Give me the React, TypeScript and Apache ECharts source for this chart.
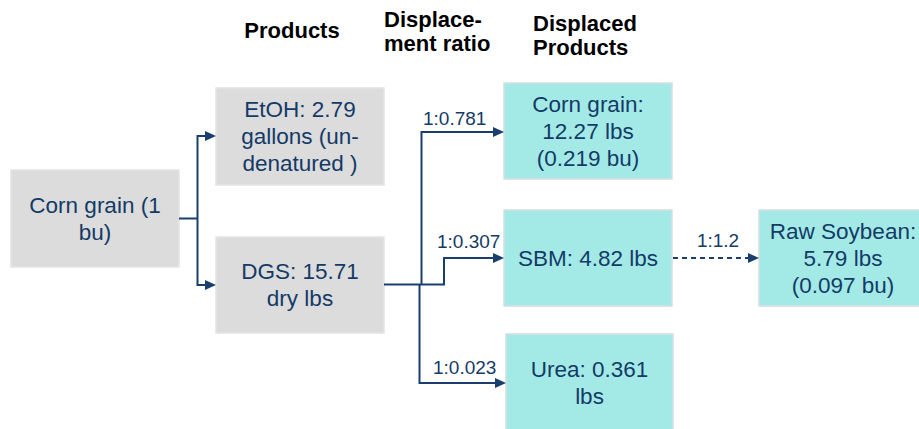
import React, { useEffect, useRef } from "react";
import * as echarts from "echarts";

// ---- Text content (data) ----
const headerLabels = ["Products", "Displace-\nment ratio", "Displaced\nProducts"];
const sourceLabel = "Corn grain (1\nbu)";
const productLabels = ["EtOH: 2.79\ngallons (un-\ndenatured )", "DGS: 15.71\ndry lbs"];
const displacedLabels = ["Corn grain:\n12.27 lbs\n(0.219 bu)", "SBM: 4.82 lbs", "Urea: 0.361\nlbs"];
const ratioLabels = ["1:0.781", "1:0.307", "1:0.023"];
const soyRatioLabel = "1:1.2";
const soyLabel = "Raw Soybean:\n5.79 lbs\n(0.097 bu)";

// ---- Layout (positions / sizes) ----
const FONT = "'Liberation Sans', Arial, Helvetica, sans-serif";
const TEXT_COLOR = "#143a66";
const LINE_COLOR = "#1a3f6c";
const GREY = "#dcdcdc";
const GREY_BORDER = "#e3e3e3";
const CYAN = "#a3eae6";
const CYAN_BORDER = "#d6dede";

const sourceBox = { x: 11, y: 170, w: 168, h: 97 };
const productBoxes = [
  { x: 216, y: 88, w: 168, h: 97 },
  { x: 216, y: 237, w: 168, h: 96 },
];
const displacedBoxes = [
  { x: 504, y: 83, w: 168, h: 96 },
  { x: 504, y: 210, w: 168, h: 96 },
  { x: 506, y: 334, w: 167, h: 98 },
];
const soyBox = { x: 759, y: 210, w: 168, h: 96 };
const headerPos = [
  { x: 292, y: 30, align: "center" },
  { x: 384, y: 31, align: "left" },
  { x: 533, y: 35, align: "left" },
];
const ratioPos = [
  { x: 423, y: 118 },
  { x: 437, y: 241 },
  { x: 433, y: 367 },
];
const soyRatioPos = { x: 718, y: 240 };

function boxEl(b: any, label: string, fill: string, stroke: string) {
  return [
    {
      type: "rect",
      shape: { x: b.x, y: b.y, width: b.w, height: b.h },
      style: { fill, stroke, lineWidth: 1.5 },
    },
    {
      type: "text",
      x: b.x + b.w / 2,
      y: b.y + b.h / 2,
      style: {
        text: label,
        fill: TEXT_COLOR,
        font: `22.5px ${FONT}`,
        fontFamily: FONT,
        fontSize: 22.5,
        lineHeight: 27,
        align: "center",
        verticalAlign: "middle",
      },
    },
  ];
}

function line(points: number[][], dashed = false) {
  return {
    type: "polyline",
    shape: { points },
    style: {
      stroke: LINE_COLOR,
      lineWidth: 2,
      fill: "none",
      lineDash: dashed ? [5, 4] : null,
    },
  };
}

function arrow(tipX: number, y: number) {
  return {
    type: "polygon",
    shape: { points: [[tipX, y], [tipX - 11, y - 5], [tipX - 11, y + 5]] },
    style: { fill: LINE_COLOR },
  };
}

export default function App() {
  const ref = useRef<HTMLDivElement>(null);
  useEffect(() => {
    if (!ref.current) return;
    const chart = echarts.init(ref.current, undefined, { renderer: "svg" });
    const elements: any[] = [];

    // boxes
    elements.push(...boxEl(sourceBox, sourceLabel, GREY, GREY_BORDER));
    productBoxes.forEach((b, i) => elements.push(...boxEl(b, productLabels[i], GREY, GREY_BORDER)));
    displacedBoxes.forEach((b, i) => elements.push(...boxEl(b, displacedLabels[i], CYAN, CYAN_BORDER)));
    elements.push(...boxEl(soyBox, soyLabel, CYAN, CYAN_BORDER));

    // headers
    headerLabels.forEach((t, i) => {
      const p = headerPos[i];
      elements.push({
        type: "text",
        x: p.x,
        y: p.y,
        style: {
          text: t,
          fill: "#000000",
          font: `bold 22px ${FONT}`,
          fontFamily: FONT,
          fontWeight: "bold",
          fontSize: 22,
          lineHeight: 24,
          align: p.align,
          verticalAlign: "middle",
        },
      });
    });

    // ratio labels
    ratioLabels.forEach((t, i) => {
      const p = ratioPos[i];
      elements.push({
        type: "text",
        x: p.x,
        y: p.y,
        style: {
          text: t,
          fill: TEXT_COLOR,
          font: `19px ${FONT}`,
          fontFamily: FONT,
          fontSize: 19,
          align: "left",
          verticalAlign: "middle",
        },
      });
    });
    elements.push({
      type: "text",
      x: soyRatioPos.x,
      y: soyRatioPos.y,
      style: {
        text: soyRatioLabel,
        fill: TEXT_COLOR,
        font: `19px ${FONT}`,
        fontFamily: FONT,
        fontSize: 19,
        align: "center",
        verticalAlign: "middle",
      },
    });

    // connectors
    const sb = sourceBox;
    const srcY = 218.5;
    const forkX = 197.5;
    const pTop = 136;
    const pBot = 285;
    elements.push(line([[sb.x + sb.w, srcY], [forkX, srcY]]));
    elements.push(line([[206, pTop], [forkX, pTop], [forkX, pBot], [206, pBot]]));
    elements.push(arrow(productBoxes[0].x, pTop));
    elements.push(arrow(productBoxes[1].x, pBot));

    const dg = productBoxes[1];
    const dy = 284.5;
    elements.push(line([[dg.x + dg.w, dy], [444, dy], [444, 258], [494, 258]]));
    elements.push(line([[421.5, dy], [421.5, 132], [494, 132]]));
    elements.push(line([[419.5, dy], [419.5, 383], [496, 383]]));
    elements.push(arrow(displacedBoxes[0].x, 132));
    elements.push(arrow(displacedBoxes[1].x, 258));
    elements.push(arrow(displacedBoxes[2].x, 383));

    const sbm = displacedBoxes[1];
    elements.push(line([[sbm.x + sbm.w + 1, 258], [soyBox.x - 10, 258]], true));
    elements.push(arrow(soyBox.x, 258));

    chart.setOption({
      animation: false,
      backgroundColor: "#ffffff",
      graphic: { elements },
    });
    return () => chart.dispose();
  }, []);

  return (
    <div
      ref={ref}
      style={{ position: "fixed", left: 0, top: 0, width: 919, height: 429, background: "#fff" }}
    />
  );
}
